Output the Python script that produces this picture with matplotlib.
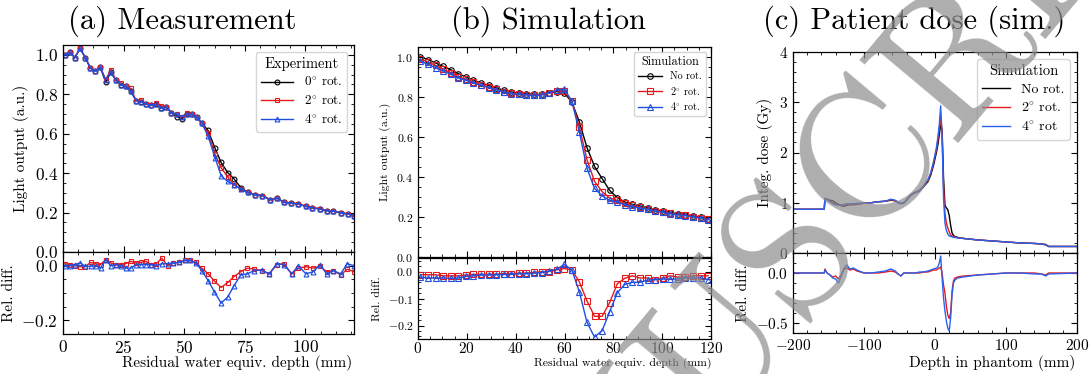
import matplotlib
matplotlib.use("Agg")
import matplotlib.pyplot as plt
from matplotlib.ticker import MultipleLocator

plt.rcParams.update({
    "font.family": "serif",
    "font.serif": ["cmr10"],
    "mathtext.fontset": "cm",
    "axes.formatter.use_mathtext": True,
    "axes.unicode_minus": True,
    "xtick.direction": "in",
    "ytick.direction": "in",
    "xtick.top": True,
    "ytick.right": True,
    "xtick.minor.visible": True,
    "ytick.minor.visible": True,
    "xtick.major.size": 4.5,
    "ytick.major.size": 4.5,
    "xtick.minor.size": 2.2,
    "ytick.minor.size": 2.2,
    "axes.linewidth": 0.9,
})

DEG = r"$^{\circ}$"
RED = "#e41a1c"
BLUE = "#1f4fe0"

# ---------------- (a) measurement ----------------
depth_a = [0.7, 2.8, 4.9, 7.0, 9.2, 11.3, 13.3, 15.4, 17.6, 19.7, 21.7, 23.8, 25.8, 28.0,
           30.1, 32.2, 34.2, 36.4, 38.5, 40.5, 42.6, 44.7, 46.9, 49.0, 51.0, 53.1, 55.1,
           57.2, 59.8, 62.7, 65.2, 67.9, 70.6, 73.4, 76.1, 79.2, 82.2, 85.4, 88.1, 91.2,
           94.1, 97.0, 100.1, 102.8, 106.0, 108.7, 111.5, 114.6, 117.4, 120.0]
meas_0 = [1.000, 1.013, 0.986, 1.033, 0.986, 0.932, 0.919, 0.936, 0.862, 0.911, 0.874,
          0.849, 0.840, 0.815, 0.768, 0.763, 0.751, 0.744, 0.751, 0.731, 0.734, 0.706,
          0.686, 0.676, 0.698, 0.698, 0.684, 0.655, 0.617, 0.526, 0.454, 0.403, 0.370,
          0.325, 0.304, 0.291, 0.286, 0.266, 0.274, 0.252, 0.249, 0.244, 0.232, 0.224,
          0.219, 0.210, 0.207, 0.199, 0.193, 0.185]
meas_2 = [1.000, 1.013, 0.986, 1.033, 0.986, 0.935, 0.919, 0.936, 0.874, 0.925, 0.874,
          0.855, 0.840, 0.830, 0.768, 0.770, 0.751, 0.744, 0.755, 0.740, 0.734, 0.706,
          0.698, 0.686, 0.705, 0.698, 0.684, 0.655, 0.605, 0.496, 0.428, 0.381, 0.341,
          0.320, 0.302, 0.291, 0.286, 0.264, 0.274, 0.252, 0.249, 0.244, 0.232, 0.224,
          0.219, 0.210, 0.207, 0.199, 0.193, 0.185]
meas_4 = [1.000, 1.013, 0.986, 1.033, 0.986, 0.932, 0.919, 0.936, 0.874, 0.911, 0.874,
          0.849, 0.840, 0.815, 0.768, 0.761, 0.751, 0.744, 0.751, 0.731, 0.734, 0.706,
          0.698, 0.686, 0.698, 0.698, 0.684, 0.655, 0.588, 0.479, 0.387, 0.358, 0.341,
          0.320, 0.302, 0.291, 0.286, 0.264, 0.274, 0.252, 0.249, 0.244, 0.232, 0.224,
          0.219, 0.210, 0.207, 0.199, 0.193, 0.185]

depth_a_diff = [0.8, 2.9, 4.9, 7.0, 9.1, 11.4, 13.5, 15.5, 17.6, 19.7, 21.7, 23.8, 25.8,
                27.9, 30.0, 32.0, 34.2, 36.3, 38.4, 40.7, 43.2, 45.5, 48.0, 50.3, 52.4,
                54.8, 57.2, 59.9, 62.4, 65.2, 67.9, 70.5, 73.3, 76.0, 78.8, 81.9, 85.1,
                88.1, 91.1, 94.3, 97.0, 100.2, 103.2, 106.0, 108.7, 111.5, 114.5, 117.2,
                120.0]
diff_a_2 = [0.007, 0.004, 0.000, -0.004, -0.004, 0.012, 0.007, 0.004, 0.022, 0.010, 0.004,
            0.004, 0.007, 0.016, 0.010, 0.012, 0.016, 0.004, 0.007, 0.027, 0.000, 0.010,
            0.012, 0.019, 0.019, 0.012, -0.009, -0.030, -0.056, -0.080, -0.062, -0.040,
            -0.022, -0.009, -0.013, -0.018, -0.030, 0.004, 0.007, -0.030, -0.009, -0.004,
            -0.009, -0.002, -0.022, -0.018, -0.034, -0.013, -0.022]
diff_a_4 = [0.000, 0.000, 0.004, 0.010, -0.002, -0.002, 0.000, -0.009, 0.022, 0.000, 0.004,
            0.000, -0.009, -0.009, 0.004, 0.004, 0.004, 0.004, 0.000, 0.007, 0.007, 0.010,
            0.012, 0.019, 0.019, 0.010, -0.018, -0.055, -0.095, -0.137, -0.115, -0.074,
            -0.034, -0.030, -0.018, -0.016, -0.030, 0.007, 0.004, -0.030, 0.000, -0.030,
            -0.022, 0.004, -0.030, -0.018, -0.030, 0.007, 0.000]

# ---------------- (b) simulation ----------------
depth_b = [1.0, 4.1, 7.2, 10.3, 13.4, 16.5, 19.6, 22.7, 25.8, 28.9, 32.0, 35.1, 38.2, 41.3,
           44.4, 47.5, 50.6, 53.7, 56.8, 59.9, 63.0, 66.1, 69.2, 72.3, 75.4, 78.5, 81.6,
           84.7, 87.8, 90.9, 94.0, 97.1, 100.2, 103.3, 106.4, 109.5, 112.6, 115.7, 118.8]
sim_0 = [1.000, 0.987, 0.970, 0.953, 0.937, 0.917, 0.900, 0.883, 0.870, 0.858, 0.847,
         0.833, 0.825, 0.820, 0.817, 0.813, 0.813, 0.820, 0.827, 0.820, 0.775, 0.675,
         0.547, 0.453, 0.392, 0.333, 0.297, 0.275, 0.263, 0.255, 0.247, 0.237, 0.230,
         0.222, 0.217, 0.212, 0.205, 0.200, 0.192]
sim_2 = [0.988, 0.975, 0.958, 0.938, 0.922, 0.902, 0.888, 0.873, 0.860, 0.849, 0.839,
         0.826, 0.818, 0.815, 0.812, 0.811, 0.812, 0.820, 0.832, 0.829, 0.780, 0.649,
         0.487, 0.378, 0.327, 0.295, 0.283, 0.268, 0.259, 0.249, 0.241, 0.230, 0.224,
         0.218, 0.212, 0.208, 0.202, 0.197, 0.189]
sim_4 = [0.979, 0.963, 0.947, 0.930, 0.914, 0.895, 0.884, 0.869, 0.859, 0.847, 0.837,
         0.825, 0.817, 0.813, 0.810, 0.808, 0.810, 0.822, 0.834, 0.840, 0.780, 0.624,
         0.444, 0.343, 0.306, 0.283, 0.274, 0.262, 0.252, 0.245, 0.239, 0.230, 0.224,
         0.216, 0.211, 0.207, 0.200, 0.195, 0.186]
diff_b_2 = [-0.012, -0.012, -0.012, -0.016, -0.016, -0.016, -0.013, -0.011, -0.011, -0.010,
            -0.010, -0.008, -0.008, -0.006, -0.006, -0.003, -0.001, 0.000, 0.006, 0.011,
            0.006, -0.039, -0.109, -0.166, -0.166, -0.115, -0.046, -0.025, -0.016, -0.024,
            -0.024, -0.030, -0.024, -0.016, -0.021, -0.021, -0.016, -0.016, -0.016]
diff_b_4 = [-0.021, -0.024, -0.024, -0.024, -0.025, -0.024, -0.018, -0.016, -0.013, -0.013,
            -0.012, -0.011, -0.011, -0.008, -0.008, -0.006, -0.004, 0.002, 0.008, 0.026,
            0.006, -0.076, -0.188, -0.243, -0.219, -0.149, -0.079, -0.048, -0.040, -0.040,
            -0.032, -0.030, -0.028, -0.028, -0.028, -0.024, -0.024, -0.024, -0.030]

# ---------------- (c) patient dose ----------------
depth_c = [-200, -156, -155, -152, -148, -144, -140, -136, -132, -128, -124, -120, -115,
           -110, -100, -90, -80, -70, -62, -56, -52, -48, -44, -40, -34, -28, -22, -16,
           -10, -6, -2, 2, 4, 6, 8, 10, 12, 14, 16, 18, 20, 22, 24, 26, 28, 32, 40, 60,
           80, 100, 120, 140, 150, 156, 160, 200]
dose_0 = [0.87, 0.87, 1.08, 1.07, 1.05, 1.04, 1.00, 0.97, 0.94, 0.93, 0.95, 0.96, 0.96,
          0.97, 0.99, 1.00, 1.02, 1.03, 1.05, 1.04, 1.00, 0.98, 0.99, 1.05, 1.15, 1.20,
          1.23, 1.32, 1.42, 1.55, 1.75, 2.00, 2.15, 2.35, 2.55, 2.45, 1.50, 0.95, 0.90,
          0.86, 0.75, 0.55, 0.40, 0.35, 0.33, 0.31, 0.29, 0.26, 0.24, 0.22, 0.20, 0.19,
          0.18, 0.17, 0.13, 0.13]
dose_2 = [0.87, 0.87, 1.09, 1.07, 1.03, 1.00, 0.98, 0.96, 0.96, 0.96, 0.97, 0.97, 0.98,
          0.98, 0.99, 1.00, 1.02, 1.03, 1.06, 1.04, 1.01, 0.99, 1.00, 1.06, 1.16, 1.21,
          1.24, 1.33, 1.44, 1.58, 1.80, 2.05, 2.25, 2.45, 2.75, 2.40, 1.30, 0.80, 0.60,
          0.50, 0.42, 0.36, 0.34, 0.33, 0.32, 0.30, 0.29, 0.26, 0.24, 0.22, 0.20, 0.19,
          0.18, 0.16, 0.13, 0.13]
dose_4 = [0.87, 0.87, 1.08, 1.06, 1.02, 0.98, 0.96, 0.95, 0.96, 0.97, 0.98, 0.98, 0.98,
          0.99, 0.99, 1.00, 1.02, 1.03, 1.07, 1.05, 1.01, 0.99, 1.00, 1.06, 1.16, 1.21,
          1.25, 1.34, 1.46, 1.60, 1.82, 2.10, 2.30, 2.55, 2.93, 2.30, 1.10, 0.60, 0.45,
          0.38, 0.34, 0.33, 0.32, 0.31, 0.31, 0.30, 0.29, 0.26, 0.24, 0.22, 0.20, 0.19,
          0.18, 0.16, 0.13, 0.13]
diff_c_2 = [0.0, 0.0, 0.04, 0.0, -0.02, -0.04, -0.03, -0.06, -0.02, 0.04, 0.05, 0.03, 0.04,
            0.02, 0.0, 0.0, 0.0, 0.01, 0.02, 0.01, -0.01, -0.03, 0.0, 0.0, 0.0, 0.0, 0.0,
            0.01, 0.01, 0.02, 0.03, 0.03, 0.04, 0.05, 0.06, 0.0, -0.12, -0.2, -0.33, -0.42,
            -0.455, -0.40, -0.18, -0.08, -0.05, -0.04, -0.03, -0.02, -0.01, 0.0, 0.0, 0.0,
            -0.01, -0.02, 0.0, 0.0]
diff_c_4 = [0.0, 0.0, 0.03, 0.0, -0.02, -0.05, -0.06, -0.10, -0.03, 0.05, 0.08, 0.04, 0.05,
            0.03, 0.0, 0.0, 0.01, 0.02, 0.04, 0.02, -0.01, -0.03, 0.0, 0.0, 0.0, 0.0, 0.01,
            0.01, 0.02, 0.03, 0.04, 0.05, 0.06, 0.10, 0.17, -0.05, -0.25, -0.38, -0.48,
            -0.55, -0.58, -0.45, -0.22, -0.10, -0.07, -0.05, -0.04, -0.02, -0.01, 0.0, 0.0,
            -0.01, -0.01, -0.03, -0.01, 0.0]


W, H = 1089, 374
fig = plt.figure(figsize=(W / 100, H / 100), dpi=100)


def add_ax(left, top, right, bottom):
    return fig.add_axes([left / W, 1 - bottom / H, (right - left) / W, (bottom - top) / H])


def marker_line(ax, x, y, color, marker, label, ms):
    ax.plot(x, y, color=color, marker=marker, ms=ms, mfc="none", mew=0.8, lw=1.0,
            label=label)


def panel_markers(top_box, bot_box, x, tops, diffs, x_diff, labels, xfs, yfs, lfs, ms,
                  ymaj_bot, ymin_bot, xmaj, xmin, label_xy, xpad):
    ax = add_ax(*top_box)
    axd = add_ax(*bot_box)
    colors = ["black", RED, BLUE]
    markers = ["o", "s", "^"]
    for y, c, m, lab in zip(tops, colors, markers, labels):
        marker_line(ax, x, y, c, m, lab, ms)
    for y, c, m in zip(diffs, colors[1:], markers[1:]):
        marker_line(axd, x_diff, y, c, m, None, ms)
    ax.set_xlim(0, 120)
    axd.set_xlim(0, 120)
    ax.set_ylim(0, 1.05)
    axd.set_ylim(-0.25, 0.05)
    ax.yaxis.set_major_locator(MultipleLocator(0.2))
    ax.yaxis.set_minor_locator(MultipleLocator(0.05))
    axd.yaxis.set_major_locator(MultipleLocator(ymaj_bot))
    axd.yaxis.set_minor_locator(MultipleLocator(ymin_bot))
    for a in (ax, axd):
        a.xaxis.set_major_locator(MultipleLocator(xmaj))
        a.xaxis.set_minor_locator(MultipleLocator(xmin))
        a.tick_params(axis="x", labelsize=xfs, which="both", pad=xpad)
        a.tick_params(axis="y", labelsize=yfs, which="both")
    ax.tick_params(labelbottom=False)
    ax.set_ylabel("Light output (a.u.)", fontsize=lfs)
    axd.set_ylabel("Rel. diff.", fontsize=lfs)
    axd.set_xlabel("Residual water equiv. depth (mm)", fontsize=lfs)
    axd.xaxis.set_label_coords(*label_xy)
    return ax, axd


# (a)
ax_a, axd_a = panel_markers((63, 45, 354, 252), (63, 252, 354, 334), depth_a,
                            [meas_0, meas_2, meas_4], [diff_a_2, diff_a_4], depth_a_diff,
                            ["0" + DEG + " rot.", "2" + DEG + " rot.", "4" + DEG + " rot."],
                            12.5, 12.5, 11, 3.5, 0.2, 0.05, 25, 6.25, (0.6, -0.26), 3.5)
ax_a.legend(title="Experiment", fontsize=9.5, title_fontsize=10.5, loc="upper right",
            handlelength=2.4, borderpad=0.4, labelspacing=0.35)

# (b)
ax_b, axd_b = panel_markers((418, 47, 711, 257), (418, 258, 711, 339), depth_b,
                            [sim_0, sim_2, sim_4], [diff_b_2, diff_b_4], depth_b,
                            ["No rot.", "2" + DEG + " rot.", "4" + DEG + " rot."],
                            11, 8.5, 8.5, 4, 0.1, 0.02, 20, 5, (0.7, -0.23), 1.2)
ax_b.legend(title="Simulation", fontsize=7.3, title_fontsize=8.8, loc="upper right",
            handlelength=2.4, borderpad=0.4, labelspacing=0.35)

# (c)
ax_c = add_ax(793, 52, 1077, 253)
axd_c = add_ax(793, 253, 1077, 333)
for y, c, lab in zip([dose_0, dose_2, dose_4], ["black", RED, "#2a62f0"],
                     ["No rot.", "2" + DEG + " rot.", "4" + DEG + " rot"]):
    ax_c.plot(depth_c, y, color=c, lw=1.0, label=lab)
axd_c.plot(depth_c, diff_c_2, color=RED, lw=1.0)
axd_c.plot(depth_c, diff_c_4, color="#2a62f0", lw=1.0)
for a in (ax_c, axd_c):
    a.set_xlim(-200, 200)
    a.xaxis.set_major_locator(MultipleLocator(100))
    a.xaxis.set_minor_locator(MultipleLocator(20))
    a.tick_params(labelsize=11, which="both")
ax_c.set_ylim(0, 4)
ax_c.yaxis.set_major_locator(MultipleLocator(1))
ax_c.yaxis.set_minor_locator(MultipleLocator(0.2))
axd_c.set_ylim(-0.6, 0.2)
axd_c.yaxis.set_major_locator(MultipleLocator(0.5))
axd_c.yaxis.set_minor_locator(MultipleLocator(0.1))
ax_c.tick_params(labelbottom=False)
ax_c.set_ylabel("Integ. dose (Gy)", fontsize=11)
axd_c.set_ylabel("Rel. diff.", fontsize=11)
axd_c.set_xlabel("Depth in phantom (mm)", fontsize=11)
axd_c.xaxis.set_label_coords(0.7, -0.28)
ax_c.legend(title="Simulation", fontsize=10, title_fontsize=10.5, loc="upper right",
            handlelength=2.0, borderpad=0.4, labelspacing=0.35)

# panel titles
for xc, txt in ((182, "(a) Measurement"), (548, "(b) Simulation"),
                (914, "(c) Patient dose (sim.)")):
    fig.text(xc / W, 1 - 21 / H, txt, fontsize=22, ha="center", va="center")

# watermark
fig.text(800 / W, 1 - 250 / H, "MANUSCRIPT", fontsize=134, rotation=50,
         ha="center", va="center", color="#8c8c8c", alpha=0.7, zorder=20)

fig.savefig("out.png", dpi=100)
